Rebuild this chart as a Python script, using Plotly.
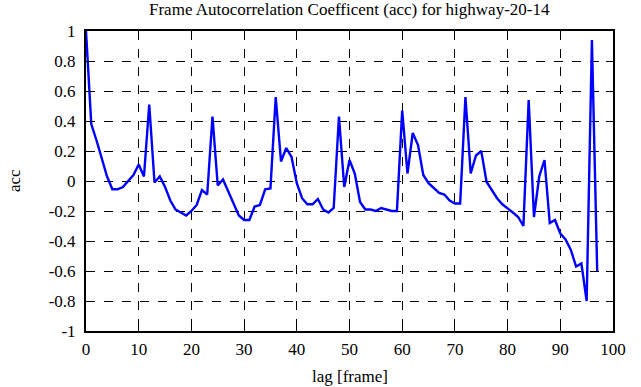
import plotly.graph_objects as go

lags = list(range(0, 98))
acc = [1.0, 0.38, 0.27, 0.15, 0.03, -0.055, -0.055, -0.04, 0.0, 0.04,
       0.11, 0.03, 0.51, -0.01, 0.03, -0.04, -0.13, -0.19, -0.21, -0.23,
       -0.2, -0.16, -0.06, -0.09, 0.43, -0.03, 0.01, -0.07, -0.16, -0.23,
       -0.26, -0.26, -0.17, -0.16, -0.055, -0.05, 0.56, 0.13, 0.22, 0.16,
       -0.015, -0.115, -0.155, -0.155, -0.12, -0.19, -0.21, -0.18, 0.43, -0.04,
       0.14, 0.05, -0.14, -0.19, -0.19, -0.2, -0.18, -0.19, -0.2, -0.2,
       0.47, 0.05, 0.32, 0.24, 0.04, -0.015, -0.05, -0.08, -0.09, -0.13,
       -0.15, -0.15, 0.56, 0.05, 0.17, 0.2, -0.005, -0.06, -0.115, -0.155,
       -0.18, -0.21, -0.24, -0.3, 0.54, -0.24, 0.03, 0.14, -0.28, -0.26,
       -0.35, -0.39, -0.46, -0.57, -0.55, -0.8, 0.94, -0.6]

x_ticks = list(range(0, 101, 10))
y_ticks = [-1, -0.8, -0.6, -0.4, -0.2, 0, 0.2, 0.4, 0.6, 0.8, 1]
y_tick_text = ["-1", "-0.8", "-0.6", "-0.4", "-0.2", "0", "0.2", "0.4", "0.6", "0.8", "1"]

title_text = "Frame Autocorrelation Coefficent (acc) for highway-20-14"
x_label = "lag [frame]"
y_label = "acc"

FONT = "Liberation Serif, Times New Roman, serif"

fig = go.Figure()
fig.add_trace(go.Scatter(x=lags, y=acc, mode="lines",
                         line=dict(color="#0000ff", width=2.4),
                         showlegend=False))

axis_common = dict(
    showline=True, linecolor="black", linewidth=2, mirror="allticks",
    ticks="inside", ticklen=7, tickcolor="black", tickwidth=1,
    showgrid=True, gridcolor="black", gridwidth=1, griddash="dash",
    zeroline=False,
    tickfont=dict(family=FONT, size=17, color="black"),
)

fig.update_layout(
    width=641, height=387,
    margin=dict(l=86, r=28, t=31, b=56),
    paper_bgcolor="white", plot_bgcolor="white",
    font=dict(family=FONT, color="black"),
    xaxis=dict(range=[0, 100], tickvals=x_ticks, ticklabelstandoff=2, **axis_common),
    yaxis=dict(range=[-1, 1], tickvals=y_ticks, ticktext=y_tick_text,
               ticklabelstandoff=5, **axis_common),
    annotations=[
        dict(text=title_text, x=0.5, xref="paper", y=1, yref="paper",
             yshift=10, yanchor="bottom", showarrow=False,
             font=dict(family=FONT, size=17, color="black")),
        dict(text=x_label, x=0.5, xref="paper", y=0, yref="paper",
             yshift=-34, yanchor="top", showarrow=False,
             font=dict(family=FONT, size=17, color="black")),
        dict(text=y_label, x=0, xref="paper", y=0.5, yref="paper",
             xshift=-72, xanchor="center", textangle=-90, showarrow=False,
             font=dict(family=FONT, size=17, color="black")),
    ],
)

fig.write_html("out.html", config={"displayModeBar": False},
               post_script="document.body.style.margin='0';")
